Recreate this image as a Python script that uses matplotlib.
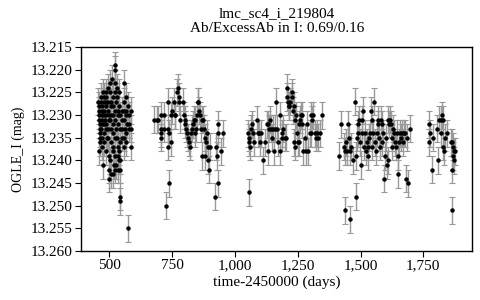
import matplotlib
matplotlib.use("Agg")
import numpy as np
import matplotlib.pyplot as plt
from matplotlib.ticker import FuncFormatter, MultipleLocator

star_name = "lmc_sc4_i_219804"
subtitle = "Ab/ExcessAb in I: 0.69/0.16"

# season 1 (dense block around 450-590)
t_s1 = [456, 457, 458, 459, 460, 461, 461, 462, 463, 464, 459,
        467, 468, 469, 470, 470, 471, 472, 468, 469, 471,
        476, 477, 478, 479, 480, 481, 478, 477, 480, 476,
        485, 486, 487, 488, 488, 486, 487, 489, 485,
        494, 495, 496, 497, 498, 495, 496, 497, 498, 500,
        503, 504, 505, 506, 507, 504, 505, 506, 503, 507,
        511, 512, 513, 514, 515, 512, 513, 514, 516, 515,
        520, 521, 522, 523, 524, 522, 523, 524, 521, 522, 524, 523,
        530, 531, 532, 533, 534, 531, 532, 533, 536, 534,
        538, 539, 540, 541, 542, 539, 540, 541, 540, 541,
        548, 549, 550, 551,
        556, 557, 558, 559, 560, 558, 559,
        565, 566, 567, 568, 566, 567,
        573,
        575, 576, 577, 578,
        584, 585, 586]
mag_s1 = [13.227, 13.228, 13.229, 13.230, 13.231, 13.232, 13.233, 13.234, 13.235, 13.236, 13.238,
          13.226, 13.227, 13.228, 13.229, 13.230, 13.231, 13.232, 13.233, 13.235, 13.237,
          13.225, 13.226, 13.227, 13.229, 13.230, 13.231, 13.232, 13.234, 13.236, 13.241,
          13.225, 13.226, 13.227, 13.228, 13.230, 13.232, 13.233, 13.235, 13.238,
          13.224, 13.227, 13.229, 13.230, 13.231, 13.233, 13.235, 13.239, 13.242, 13.244,
          13.223, 13.225, 13.227, 13.228, 13.230, 13.231, 13.233, 13.236, 13.240, 13.243,
          13.222, 13.226, 13.228, 13.230, 13.232, 13.234, 13.237, 13.238, 13.241, 13.243,
          13.219, 13.220, 13.223, 13.225, 13.227, 13.229, 13.231, 13.233, 13.235, 13.239, 13.241, 13.242,
          13.224, 13.226, 13.229, 13.230, 13.232, 13.235, 13.237, 13.239, 13.240, 13.242,
          13.225, 13.228, 13.230, 13.233, 13.236, 13.238, 13.240, 13.242, 13.248, 13.249,
          13.229, 13.231, 13.233, 13.235,
          13.223, 13.227, 13.229, 13.231, 13.233, 13.235, 13.237,
          13.226, 13.229, 13.230, 13.232, 13.234, 13.236,
          13.255,
          13.228, 13.230, 13.232, 13.233,
          13.229, 13.233, 13.237]

# season 2
t_s2 = [676, 689, 692, 706, 706, 706, 706, 719, 719, 724, 732, 732, 735, 737, 737,
        746, 746, 748, 755, 759, 762, 768, 772, 775, 777, 781, 791, 795, 799,
        801, 804, 808, 812, 815, 820, 825, 828, 831, 835, 839, 841, 844, 848,
        852, 854, 857, 861, 865, 870, 870, 874, 878, 881, 881, 884, 888, 892,
        894, 897, 901, 921, 923, 927, 931, 934, 934, 945, 954]
mag_s2 = [13.231, 13.231, 13.231, 13.230, 13.233, 13.234, 13.235, 13.230, 13.233, 13.250,
          13.227, 13.233, 13.237, 13.234, 13.245,
          13.230, 13.236, 13.229, 13.227, 13.230, 13.230, 13.225, 13.224, 13.226, 13.227,
          13.231, 13.227, 13.230, 13.231,
          13.232, 13.233, 13.234, 13.235, 13.236, 13.237, 13.234, 13.233, 13.232, 13.231,
          13.231, 13.234, 13.233, 13.230,
          13.227, 13.227, 13.229, 13.230, 13.233, 13.231, 13.239, 13.231, 13.233, 13.235,
          13.239, 13.236, 13.234, 13.237,
          13.240, 13.242, 13.237, 13.248, 13.237, 13.239, 13.234, 13.232, 13.245, 13.238, 13.234]

# season 3
t_s3 = [1051, 1054, 1056, 1056, 1059, 1064, 1069, 1073, 1077, 1087, 1091, 1096, 1100,
        1104, 1113, 1120, 1126, 1130, 1133, 1136, 1140, 1144, 1149, 1153, 1157, 1160,
        1165, 1166, 1173, 1178, 1181, 1186, 1189, 1193, 1197, 1202, 1205, 1207, 1210,
        1213, 1215, 1219, 1226, 1228, 1229, 1233, 1234, 1237, 1239, 1242, 1246, 1250,
        1253, 1255, 1259, 1263, 1266, 1268, 1272, 1279, 1282, 1286, 1292, 1299, 1301,
        1303, 1306, 1312, 1319, 1322, 1326, 1332, 1339, 1345]
mag_s3 = [13.234, 13.235, 13.236, 13.247, 13.237, 13.233, 13.232, 13.234, 13.236, 13.231,
          13.234, 13.234, 13.236,
          13.234, 13.240, 13.236, 13.232, 13.232, 13.238, 13.233, 13.231, 13.233, 13.235,
          13.233, 13.238, 13.233,
          13.227, 13.233, 13.236, 13.230, 13.238, 13.234, 13.235, 13.233, 13.235, 13.235,
          13.226, 13.224, 13.227,
          13.228, 13.228, 13.227, 13.225, 13.226, 13.229, 13.228, 13.236, 13.231, 13.237,
          13.230, 13.234, 13.236,
          13.236, 13.232, 13.231, 13.230, 13.232, 13.230, 13.238, 13.235, 13.238, 13.232,
          13.238, 13.234, 13.230,
          13.234, 13.231, 13.230, 13.234, 13.235, 13.234, 13.235, 13.234, 13.230]

# season 4
t_s4 = [1414, 1422, 1432, 1436, 1436, 1441, 1445, 1449, 1454, 1458, 1458, 1462, 1468,
        1476, 1481, 1481, 1485, 1489, 1491, 1494, 1498, 1502, 1505, 1507, 1511, 1515,
        1518, 1521, 1525, 1529, 1531, 1534, 1538, 1542, 1545, 1547, 1551, 1555, 1558,
        1560, 1564, 1568, 1571, 1574, 1578, 1582, 1584, 1587, 1591, 1595, 1598, 1600,
        1604, 1608, 1611, 1614, 1618, 1621, 1624, 1627, 1631, 1635, 1637, 1640, 1644,
        1648, 1651, 1653, 1657, 1661, 1664, 1667, 1671, 1675, 1680, 1684, 1688, 1697]
mag_s4 = [13.239, 13.232, 13.237, 13.238, 13.251, 13.236, 13.238, 13.232, 13.235, 13.238,
          13.253, 13.237, 13.240,
          13.227, 13.239, 13.248, 13.235, 13.234, 13.232, 13.231, 13.236, 13.241, 13.231,
          13.234, 13.229, 13.237,
          13.234, 13.238, 13.236, 13.239, 13.237, 13.235, 13.234, 13.229, 13.231, 13.237,
          13.234, 13.227, 13.236,
          13.238, 13.234, 13.232, 13.231, 13.235, 13.237, 13.231, 13.236, 13.232, 13.234,
          13.244, 13.239, 13.235,
          13.241, 13.240, 13.231, 13.232, 13.231, 13.232, 13.237, 13.235, 13.233, 13.234,
          13.236, 13.237, 13.234,
          13.243, 13.239, 13.236, 13.234, 13.235, 13.234, 13.236, 13.234, 13.234, 13.244,
          13.235, 13.245, 13.233]

# season 5
t_s5 = [1772, 1774, 1777, 1783, 1790, 1806, 1810, 1814, 1819, 1821, 1823, 1827, 1829,
        1832, 1836, 1846, 1859, 1863, 1863, 1864, 1867, 1870, 1871, 1872, 1875]
mag_s5 = [13.236, 13.232, 13.234, 13.242, 13.235, 13.233, 13.240, 13.231, 13.231, 13.234,
          13.230, 13.231, 13.237, 13.238, 13.235, 13.234, 13.236, 13.242, 13.251, 13.236,
          13.237, 13.239, 13.238, 13.240, 13.238]

mag_err = 0.003

time = np.concatenate([t_s1, t_s2, t_s3, t_s4, t_s5])
mag = np.concatenate([mag_s1, mag_s2, mag_s3, mag_s4, mag_s5])

plt.rcParams["font.family"] = ["Liberation Serif", "DejaVu Serif"]

fig = plt.figure(figsize=(4.8, 3.0), dpi=100)
ax = fig.add_axes([0.169, 0.163, 0.815, 0.68])

ax.errorbar(time, mag, yerr=mag_err, fmt="o", color="black", markersize=2.2,
            ecolor="#999999", elinewidth=1.0, capsize=2.2, capthick=0.8)

ax.set_xlim(387, 1945)
ax.set_ylim(13.260, 13.215)
ax.xaxis.set_major_locator(MultipleLocator(250))
ax.xaxis.set_major_formatter(FuncFormatter(lambda v, p: f"{int(v):,}"))
ax.yaxis.set_major_locator(MultipleLocator(0.005))
ax.yaxis.set_major_formatter(FuncFormatter(lambda v, p: f"{v:.3f}"))

ax.tick_params(axis="both", labelsize=11, length=4, width=0.8, direction="out",
               top=False, right=False, pad=2)
for spine in ax.spines.values():
    spine.set_linewidth(1.0)

ax.set_xlabel("time-2450000 (days)", fontsize=11, labelpad=2)
ax.set_ylabel("OGLE_I (mag)", fontsize=10, labelpad=4)
ax.set_title(star_name + "\n" + subtitle, fontsize=11, pad=11, linespacing=1.15)

fig.savefig("out.png", dpi=100)
